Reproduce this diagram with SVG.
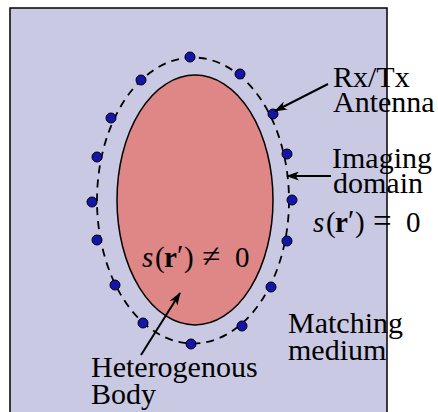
<svg xmlns="http://www.w3.org/2000/svg" width="438" height="412" viewBox="0 0 438 412">
<style>
.dot{fill:#1515aa;stroke:#000;stroke-width:1}
.conn{stroke:#000;stroke-width:2;fill:none;marker-end:url(#ah)}
</style>
<defs>
<marker id="ah" viewBox="0 0 13 9" refX="12" refY="4.5" markerWidth="13" markerHeight="9" markerUnits="userSpaceOnUse" orient="auto">
<path d="M0,0 L13,4.5 L0,9 L3.5,4.5 Z" fill="#000"/>
</marker>
</defs>
<g id="medium">
<rect x="10" y="8" width="377" height="420" fill="#c9c9e3" stroke="#000" stroke-width="1.5"/>
</g>
<g id="body">
<ellipse cx="195" cy="200" rx="78" ry="125" fill="#df8686" stroke="#000" stroke-width="1.5"/>
</g>
<g id="imaging-domain">
<ellipse cx="193" cy="200.5" rx="96" ry="143" fill="none" stroke="#000" stroke-width="1.8" stroke-dasharray="8,6"/>
</g>
<g id="antennas">
<circle class="dot" cx="190" cy="57" r="5"/>
<circle class="dot" cx="141" cy="80" r="5"/>
<circle class="dot" cx="240" cy="74" r="5"/>
<circle class="dot" cx="111" cy="118" r="5"/>
<circle class="dot" cx="273" cy="114" r="5"/>
<circle class="dot" cx="97" cy="157" r="5"/>
<circle class="dot" cx="287" cy="154" r="5"/>
<circle class="dot" cx="92" cy="202" r="5"/>
<circle class="dot" cx="292" cy="200" r="5"/>
<circle class="dot" cx="97" cy="240" r="5"/>
<circle class="dot" cx="287" cy="241" r="5"/>
<circle class="dot" cx="115" cy="285" r="5"/>
<circle class="dot" cx="271" cy="287" r="5"/>
<circle class="dot" cx="143" cy="323" r="5"/>
<circle class="dot" cx="242" cy="326" r="5"/>
<circle class="dot" cx="191" cy="344" r="5"/>
</g>
<g id="connectors">
<line class="conn" x1="328" y1="84" x2="275" y2="111"/>
<line class="conn" x1="331" y1="176" x2="287" y2="176"/>
<line class="conn" x1="141" y1="355" x2="180" y2="293"/>
</g>
<g font-family="Liberation Serif, DejaVu Serif, serif" font-size="30" fill="#000">
<g id="label-antenna">
<text x="333" y="87">Rx/Tx</text>
<text x="333" y="112">Antenna</text>
</g>
<g id="label-imaging">
<text x="332" y="168">Imaging</text>
<text x="333" y="193">domain</text>
</g>
<g id="label-s-outside" font-size="29">
<text y="232"><tspan x="313" font-style="italic">s</tspan><tspan x="326">(</tspan><tspan x="335" font-weight="bold">r</tspan><tspan x="348" dy="-2">′</tspan><tspan x="355" dy="2">)</tspan><tspan x="373" font-size="33">=</tspan><tspan x="406">0</tspan></text>
</g>
<g id="label-s-inside" font-size="29">
<text y="267"><tspan x="142" font-style="italic">s</tspan><tspan x="155">(</tspan><tspan x="164" font-weight="bold">r</tspan><tspan x="177" dy="-2">′</tspan><tspan x="184" dy="2">)</tspan><tspan x="202" font-size="33">≠</tspan><tspan x="235">0</tspan></text>
</g>
<g id="label-matching">
<text x="288" y="333">Matching</text>
<text x="288" y="360">medium</text>
</g>
<g id="label-body">
<text x="91" y="377">Heterogenous</text>
<text x="91" y="404">Body</text>
</g>
</g>
</svg>
